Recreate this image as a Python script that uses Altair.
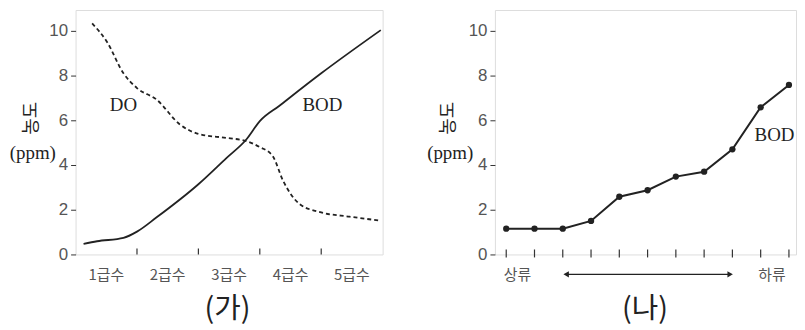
import altair as alt
import pandas as pd

# ---- panel (가) data ----
bod_a_x = [0.13, 0.35, 0.78, 1.0, 1.32, 2.0, 2.46, 2.78, 3.0, 3.32, 4.0, 4.97]
bod_a_y = [0.47, 0.59, 0.74, 1.02, 1.66, 3.14, 4.32, 5.14, 5.96, 6.65, 8.1, 10.03]
do_a_x = [0.27, 0.51, 0.78, 1.0, 1.32, 1.70, 2.0, 2.46, 2.78, 3.0, 3.21, 3.38, 3.65, 4.0, 4.46, 4.97]
do_a_y = [10.33, 9.51, 8.1, 7.44, 6.92, 5.81, 5.39, 5.21, 5.07, 4.8, 4.4, 3.29, 2.25, 1.88, 1.69, 1.51]
grade_labels = ["1급수", "2급수", "3급수", "4급수", "5급수"]
grade_pos = [0.5, 1.5, 2.5, 3.5, 4.5]
grade_ticks = [1, 2, 3, 4]
series_labels_a = ["DO", "BOD"]
series_label_x_a = [0.78, 4.02]
series_label_y_a = [6.7, 6.7]

# ---- panel (나) data ----
station = [1, 2, 3, 4, 5, 6, 7, 8, 9, 10, 11]
bod_b = [1.15, 1.15, 1.15, 1.5, 2.58, 2.87, 3.48, 3.7, 4.7, 6.58, 7.58]
flow_labels = ["상류", "하류"]
flow_pos = [1.4, 10.4]
arrow_ends = [3.12, 8.92]
bod_label_b = ["BOD"]
bod_label_b_x = [10.49]
bod_label_b_y = [5.36]

y_ticks = [0, 2, 4, 6, 8, 10]

H = 246
INK = "#222222"
GRAY = "#555555"

ys = alt.Scale(domain=[0, 10.93], nice=False, zero=False)
yaxis = alt.Axis(values=y_ticks, title=None, domain=False, ticks=True, tickSize=5,
                 tickColor="#333", labelFontSize=17, labelColor=GRAY,
                 labelFont="Liberation Sans", grid=False, labelPadding=3)


def side_title(x_off):
    t1 = alt.Chart(pd.DataFrame({"t": ["농도"]})).mark_text(
        angle=270, font="Noto Sans CJK KR", fontSize=18, color=INK
    ).encode(x=alt.value(x_off), y=alt.value(109), text="t:N")
    t2 = alt.Chart(pd.DataFrame({"t": ["(ppm)"]})).mark_text(
        font="Liberation Serif", fontSize=19, color=INK
    ).encode(x=alt.value(x_off + 1), y=alt.value(144), text="t:N")
    return t1 + t2


# invisible anchor that fixes the left edge of the whole chart
anchor = alt.Chart(pd.DataFrame({"a": [0]})).mark_rule(strokeOpacity=0).encode(
    x=alt.value(-67), y=alt.value(0), y2=alt.value(2)
)

# ---------------- panel (가) ----------------
xs_a = alt.Scale(domain=[0, 5], nice=False, zero=False)
df_bod_a = pd.DataFrame({"x": bod_a_x, "y": bod_a_y})
df_do_a = pd.DataFrame({"x": do_a_x, "y": do_a_y})

bod_line_a = alt.Chart(df_bod_a).mark_line(color=INK, strokeWidth=1.8, interpolate="monotone").encode(
    x=alt.X("x:Q", scale=xs_a, axis=None),
    y=alt.Y("y:Q", scale=ys, axis=yaxis),
)
do_line_a = alt.Chart(df_do_a).mark_line(color=INK, strokeWidth=1.8, strokeDash=[4, 3],
                                          interpolate="monotone").encode(
    x=alt.X("x:Q", scale=xs_a, axis=None),
    y=alt.Y("y:Q", scale=ys, axis=yaxis),
)
ticks_a = alt.Chart(pd.DataFrame({"x": grade_ticks})).mark_rule(color="#333", strokeWidth=1.2).encode(
    x=alt.X("x:Q", scale=xs_a, axis=None), y=alt.value(H - 6), y2=alt.value(H)
)
glabels_a = alt.Chart(pd.DataFrame({"x": grade_pos, "t": grade_labels})).mark_text(
    font="Noto Sans CJK KR", fontSize=15, color=GRAY, baseline="middle"
).encode(x=alt.X("x:Q", scale=xs_a, axis=None), y=alt.value(H + 21), text="t:N")
slabels_a = alt.Chart(pd.DataFrame({"x": series_label_x_a, "y": series_label_y_a, "t": series_labels_a})).mark_text(
    font="Liberation Serif", fontSize=19, color=INK
).encode(x=alt.X("x:Q", scale=xs_a, axis=None), y=alt.Y("y:Q", scale=ys, axis=yaxis), text="t:N")
cap_a = alt.Chart(pd.DataFrame({"t": ["(가)"]})).mark_text(
    font="Noto Sans CJK KR", fontSize=29, color=INK, baseline="middle"
).encode(x=alt.value(153), y=alt.value(H + 55), text="t:N")

panel_a = alt.layer(bod_line_a, do_line_a, ticks_a, glabels_a, slabels_a, cap_a,
                    side_title(-44), anchor).properties(width=309, height=H)

# ---------------- panel (나) ----------------
xs_b = alt.Scale(domain=[0.6, 11.25], nice=False, zero=False)
df_b = pd.DataFrame({"x": station, "y": bod_b})

line_b = alt.Chart(df_b).mark_line(color=INK, strokeWidth=2,
                                   point=alt.OverlayMarkDef(filled=True, color=INK, size=40)).encode(
    x=alt.X("x:Q", scale=xs_b, axis=None),
    y=alt.Y("y:Q", scale=ys, axis=yaxis),
)
ticks_b = alt.Chart(pd.DataFrame({"x": station})).mark_rule(color="#333", strokeWidth=1.2).encode(
    x=alt.X("x:Q", scale=xs_b, axis=None), y=alt.value(H - 5), y2=alt.value(H + 3)
)
flabels_b = alt.Chart(pd.DataFrame({"x": flow_pos, "t": flow_labels})).mark_text(
    font="Noto Sans CJK KR", fontSize=15, color=GRAY, baseline="middle"
).encode(x=alt.X("x:Q", scale=xs_b, axis=None), y=alt.value(H + 21), text="t:N")
arrow_line = alt.Chart(pd.DataFrame({"x": [arrow_ends[0]], "x2": [arrow_ends[1]]})).mark_rule(
    color=INK, strokeWidth=1.3
).encode(x=alt.X("x:Q", scale=xs_b, axis=None), x2="x2:Q", y=alt.value(H + 20))
arrow_heads = alt.Chart(pd.DataFrame({"x": arrow_ends, "s": ["triangle-left", "triangle-right"]})).mark_point(
    filled=True, color=INK, size=40, opacity=1
).encode(x=alt.X("x:Q", scale=xs_b, axis=None), y=alt.value(H + 20),
         shape=alt.Shape("s:N", scale=None, legend=None))
bodlab_b = alt.Chart(pd.DataFrame({"x": bod_label_b_x, "y": bod_label_b_y, "t": bod_label_b})).mark_text(
    font="Liberation Serif", fontSize=19, color=INK
).encode(x=alt.X("x:Q", scale=xs_b, axis=None), y=alt.Y("y:Q", scale=ys, axis=yaxis), text="t:N")
cap_b = alt.Chart(pd.DataFrame({"t": ["(나)"]})).mark_text(
    font="Noto Sans CJK KR", fontSize=29, color=INK, baseline="middle"
).encode(x=alt.value(151), y=alt.value(H + 55), text="t:N")

panel_b = alt.layer(line_b, ticks_b, flabels_b, arrow_line, arrow_heads, bodlab_b, cap_b,
                    side_title(-46)).properties(width=303, height=H)

chart = alt.hconcat(panel_a, panel_b, spacing=113, bounds="flush").properties(
    padding=0
).configure_view(stroke="#333", strokeWidth=1.5).configure(background="white")

chart.save("out.html", embed_options={"renderer": "svg", "actions": False})
